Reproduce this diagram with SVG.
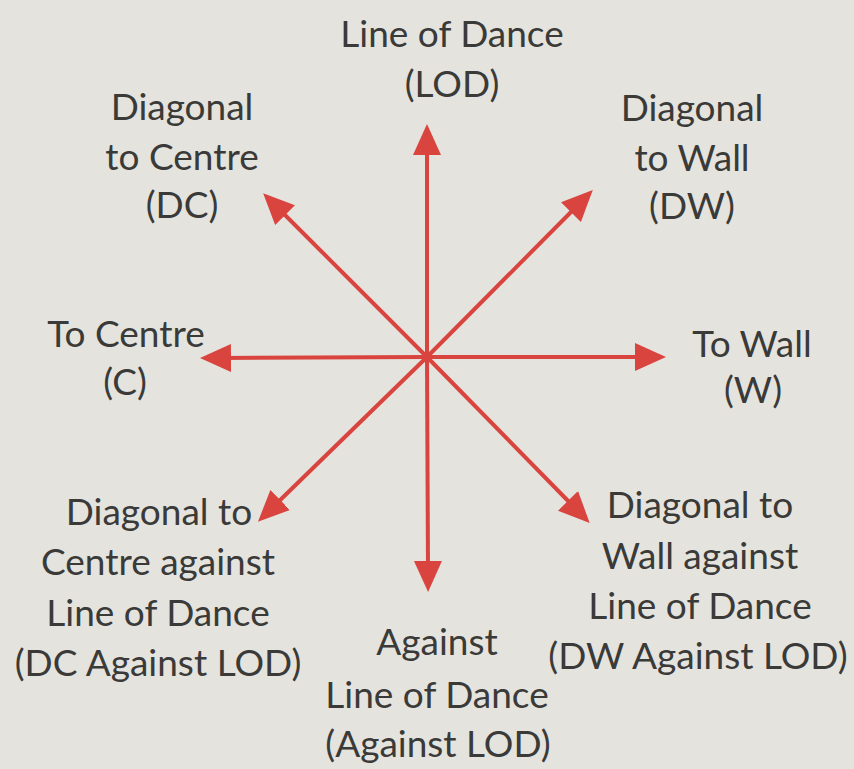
<svg xmlns="http://www.w3.org/2000/svg" width="854" height="769" viewBox="0 0 854 769">
<defs>
<style>
text{font-family:Lato,"Open Sans","Liberation Sans",sans-serif;font-size:37px;fill:#3a3a38;text-anchor:middle}
.arr{stroke:#d9443f;stroke-width:4;fill:none;marker-end:url(#ah)}
</style>
<marker id="ah" markerUnits="userSpaceOnUse" markerWidth="32" markerHeight="30" viewBox="0 0 32 30" refX="10" refY="15" orient="auto">
<path d="M0,1 L31,15 L0,29 z" fill="#d9443f"/>
</marker>
</defs>
<rect width="854" height="769" fill="#e5e3de"/>
<g id="connectors">
<line class="arr" x1="427" y1="357" x2="427" y2="145"/>
<line class="arr" x1="427" y1="357" x2="428" y2="571"/>
<line class="arr" x1="427" y1="357" x2="221" y2="358"/>
<line class="arr" x1="427" y1="357" x2="645" y2="357"/>
<line class="arr" x1="427" y1="357" x2="578" y2="205"/>
<line class="arr" x1="427" y1="357" x2="278" y2="208"/>
<line class="arr" x1="427" y1="357" x2="273" y2="507"/>
<line class="arr" x1="427" y1="357" x2="575" y2="508"/>
</g>
<g id="lod"><text x="452" y="47">Line of Dance</text><text x="452" y="97">(LOD)</text></g>
<g id="dc"><text x="182" y="120">Diagonal</text><text x="182" y="170">to Centre</text><text x="182" y="218">(DC)</text></g>
<g id="dw"><text x="692" y="121">Diagonal</text><text x="692" y="171">to Wall</text><text x="692" y="219">(DW)</text></g>
<g id="c"><text x="126" y="347">To Centre</text><text x="125" y="395">(C)</text></g>
<g id="w"><text x="752" y="357">To Wall</text><text x="753" y="403">(W)</text></g>
<g id="dcalod"><text x="159" y="525">Diagonal to</text><text x="158" y="575">Centre against</text><text x="158" y="626">Line of Dance</text><text x="158" y="676">(DC Against LOD)</text></g>
<g id="dwalod"><text x="700" y="518">Diagonal to</text><text x="700" y="569">Wall against</text><text x="700" y="619">Line of Dance</text><text x="698" y="669">(DW Against LOD)</text></g>
<g id="alod"><text x="437" y="655">Against</text><text x="437" y="708">Line of Dance</text><text x="438" y="757">(Against LOD)</text></g>
</svg>
